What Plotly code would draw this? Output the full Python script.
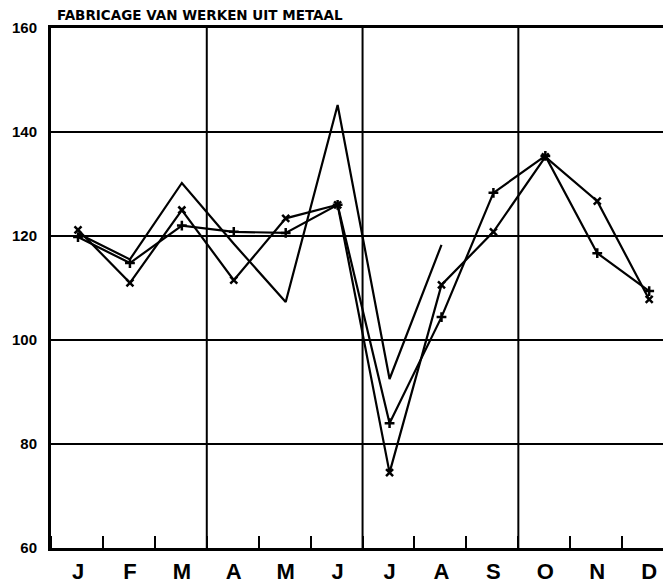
import plotly.graph_objects as go

months = ["J", "F", "M", "A", "M", "J", "J", "A", "S", "O", "N", "D"]
series_x = [121.2, 111.0, 125.0, 111.5, 123.4, 126.0, 74.5, 110.6, 120.8, 135.2, 126.7, 107.8]
series_plus = [119.8, 114.8, 122.0, 120.8, 120.6, 126.0, 84.0, 104.4, 128.3, 135.4, 116.7, 109.4]
series_plain = [120.5, 115.5, 130.2, 118.5, 107.3, 145.2, 92.5, 118.3]
y_ticks = [60, 80, 100, 120, 140, 160]
title_text = "FABRICAGE VAN WERKEN UIT METAAL"

xpos = list(range(len(months)))
offset = -0.52
quarter_bounds = [q * 3 + offset for q in (1, 2, 3)]

fig = go.Figure()
fig.add_trace(go.Scatter(x=xpos[:len(series_plain)], y=series_plain, mode="lines",
                         line=dict(color="black", width=2.2)))
fig.add_trace(go.Scatter(x=xpos, y=series_plus, mode="lines+markers",
                         line=dict(color="black", width=2.2),
                         marker=dict(symbol="cross-thin", size=7, line=dict(color="black", width=2.5))))
fig.add_trace(go.Scatter(x=xpos, y=series_x, mode="lines+markers",
                         line=dict(color="black", width=2.2),
                         marker=dict(symbol="x-thin", size=7, line=dict(color="black", width=2.5))))

for b in quarter_bounds:
    fig.add_shape(type="line", xref="x", yref="paper", x0=b, x1=b, y0=0, y1=1,
                  line=dict(color="black", width=2), layer="above")

fig.update_layout(
    width=663, height=577,
    margin=dict(l=43, r=0, t=20, b=37),
    plot_bgcolor="white", paper_bgcolor="white",
    showlegend=False,
    xaxis=dict(range=[offset, len(months) + offset - 0.06], tickmode="array", tickvals=xpos,
               ticktext=months, ticks="", showgrid=False, zeroline=False,
               showline=True, linecolor="black", linewidth=3, mirror=True,
               tickfont=dict(family="Liberation Sans Narrow, Liberation Sans", size=22, color="black"),
               ticklabelstandoff=2,
               minor=dict(tickmode="linear", tick0=offset, dtick=1, ticks="inside",
                          ticklen=12, tickwidth=2, tickcolor="black", showgrid=False)),
    yaxis=dict(range=[60, 160], tickmode="array", tickvals=y_ticks,
               ticks="inside", ticklen=6, tickwidth=2, tickcolor="black",
               showgrid=True, gridcolor="black", gridwidth=2, zeroline=False,
               showline=True, linecolor="black", linewidth=3,
               tickfont=dict(family="Liberation Sans", size=15, color="black", weight="bold"),
               ticklabelstandoff=8),
    annotations=[dict(text="<b>" + title_text + "</b>", xref="paper", yref="paper",
                      x=0.006, y=1, xanchor="left", yanchor="bottom", yshift=3,
                      showarrow=False,
                      font=dict(family="DejaVu Sans", size=13.5, color="black"))],
)
fig.update_xaxes(tickfont_weight="bold")

fig.write_html("out.html")
